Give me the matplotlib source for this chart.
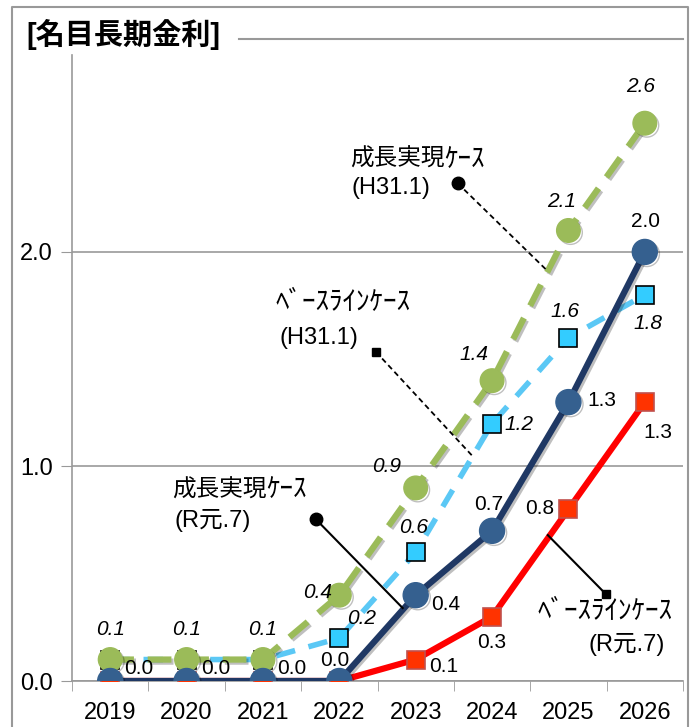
import numpy as np
import matplotlib
matplotlib.use("Agg")
import matplotlib.pyplot as plt
import matplotlib.patheffects as pe
from matplotlib.lines import Line2D

plt.rcParams['font.family'] = ['Liberation Sans', 'Noto Sans CJK JP', 'DejaVu Sans']

# データ
years = ['2019', '2020', '2021', '2022', '2023', '2024', '2025', '2026']
growth_h31 = [0.1, 0.1, 0.1, 0.4, 0.9, 1.4, 2.1, 2.6]      # 成長実現ケース(H31.1)
base_h31 = [0.1, 0.1, 0.1, 0.2, 0.6, 1.2, 1.6, 1.8]        # ベースラインケース(H31.1)
growth_r1 = [0.0, 0.0, 0.0, 0.0, 0.4, 0.7, 1.3, 2.0]       # 成長実現ケース(R元.7)
base_r1 = [0.0, 0.0, 0.0, 0.0, 0.1, 0.3, 0.8, 1.3]         # ベースラインケース(R元.7)

# ラベルを出す点とオフセット(px)
growth_h31_lab = [(0, 0, 30), (1, 0, 30), (2, 0, 30), (3, -22, 3), (4, -29, 21), (5, -18, 26), (6, -7, 29), (7, -4, 37)]
base_h31_lab = [(3, 22, 20), (4, -2, 25), (5, 27, -1), (6, -3, 26), (7, 3, -29)]
growth_r1_lab = [(0, 29, 13), (1, 29, 13), (2, 29, 13), (3, -5, 21), (4, 30, -9), (5, -3, 26), (6, 33, 2), (7, 1, 30)]
base_r1_lab = [(4, 28, -7), (5, 0, -26), (6, -29, 1), (7, 13, -30)]

x = np.arange(len(years))

fig = plt.figure(figsize=(6.91, 7.27), dpi=100)
ax = fig.add_axes([72 / 691, 46 / 727, (683 - 72) / 691, (681 - 55) / 727])

shadow = [pe.SimpleLineShadow(offset=(1.5, -1.5), alpha=0.25, shadow_color='k'), pe.Normal()]

ax.plot(x, base_h31, color='#5BC8F5', lw=4, ls=(0, (3.5, 2.5)), marker='s', ms=13,
        mfc='#33CCFF', mec='black', mew=1.2, zorder=2)
ax.plot(x, growth_h31, color='#9BBB59', lw=4.5, ls=(0, (3.8, 2.2)), marker='o', ms=17,
        mfc='#9BBB59', mec='#9BBB59', zorder=3, path_effects=shadow)
ax.plot(x, base_r1, color='#FF0000', lw=4.5, marker='s', ms=13,
        mfc='#FF3300', mec='#C0504D', mew=1.2, zorder=4)
ax.plot(x, growth_r1, color='#1F3864', lw=4.5, marker='o', ms=18,
        mfc='#35608F', mec='#35608F', zorder=5, path_effects=shadow)

def put_labels(vals, labs, italic):
    for i, dx, dy in labs:
        ax.annotate(f'{vals[i]:.1f}', (x[i], vals[i]), xytext=(dx * 0.72, dy * 0.72),
                    textcoords='offset points', ha='center', va='center',
                    fontsize=15, style='italic' if italic else 'normal', zorder=6)

put_labels(growth_h31, growth_h31_lab, True)
put_labels(base_h31, base_h31_lab, True)
put_labels(growth_r1, growth_r1_lab, False)
put_labels(base_r1, base_r1_lab, False)

# 注記（半角カナは少し大きめに）
jp = 17
kana = 19.5

def growth_note(xt, yt):
    t = ax.text(xt, yt, '成長実現', fontsize=jp, va='center', ha='left')
    ax.annotate('ｹｰｽ', xy=(1.0, 0.5), xycoords=t, xytext=(0, 0), textcoords='offset points',
                fontsize=kana, va='center', ha='left')

growth_note(3.14, 2.43)
ax.text(3.16, 2.30, '(H31.1)', fontsize=jp, va='center', ha='left')
ax.plot([4.55, 5.73], [2.32, 1.91], color='black', lw=1.3, ls=(0, (3, 2)), zorder=6)
ax.plot(4.55, 2.32, 'o', color='black', ms=9, zorder=6)

ax.text(2.17, 1.76, 'ﾍﾞｰｽﾗｲﾝｹｰｽ', fontsize=kana, va='center', ha='left')
ax.text(2.22, 1.60, '(H31.1)', fontsize=jp, va='center', ha='left')
ax.plot([3.48, 4.74], [1.534, 1.05], color='black', lw=1.3, ls=(0, (3, 2)), zorder=6)
ax.plot(3.48, 1.534, 's', color='black', ms=6, zorder=6)

growth_note(0.81, 0.89)
ax.text(0.84, 0.75, '(R元.7)', fontsize=jp, va='center', ha='left')
ax.plot([2.69, 3.83], [0.755, 0.34], color='black', lw=1.5, zorder=6)
ax.plot(2.69, 0.755, 'o', color='black', ms=9, zorder=6)

ax.text(5.59, 0.32, 'ﾍﾞｰｽﾗｲﾝｹｰｽ', fontsize=kana, va='center', ha='left')
ax.text(7.26, 0.168, '(R元.7)', fontsize=jp, va='center', ha='right')
ax.plot([6.49, 5.73], [0.405, 0.68], color='black', lw=1.5, zorder=6)
ax.plot(6.49, 0.405, 's', color='black', ms=6, zorder=6)

# 軸
ax.set_xlim(-0.5, len(years) - 0.5)
ax.set_ylim(0, 2.918)
ax.set_xticks(x)
ax.set_xticklabels(years, fontsize=17)
ax.set_xticks(np.arange(-0.5, len(years)), minor=True)
ax.tick_params(axis='x', which='major', length=0, pad=15)
ax.tick_params(axis='x', which='minor', length=7, color='#999999', direction='out')
ax.set_yticks([0, 1, 2])
ax.set_yticklabels(['0.0', '1.0', '2.0'], fontsize=17)
ax.tick_params(axis='y', length=8, color='#999999', pad=6)
ax.grid(axis='y', color='#999999', lw=1.2)
ax.set_axisbelow(True)
for s in ['top', 'right']:
    ax.spines[s].set_visible(False)
for s in ['left', 'bottom']:
    ax.spines[s].set_color('#999999')
    ax.spines[s].set_linewidth(1.2)

# タイトルと外枠
fig.text(26 / 691, 1 - 34 / 727, '[名目長期金利]', fontsize=21, fontweight='bold', va='center', ha='left')
fig.add_artist(Line2D([239 / 691, 683 / 691], [1 - 39 / 727] * 2, color='#999999', lw=1.5))
fig.add_artist(Line2D([12 / 691, 12 / 691, 688 / 691, 688 / 691], [0, 1 - 7 / 727, 1 - 7 / 727, 0],
                      color='#999999', lw=1.5))

fig.savefig('out.png', dpi=100)
